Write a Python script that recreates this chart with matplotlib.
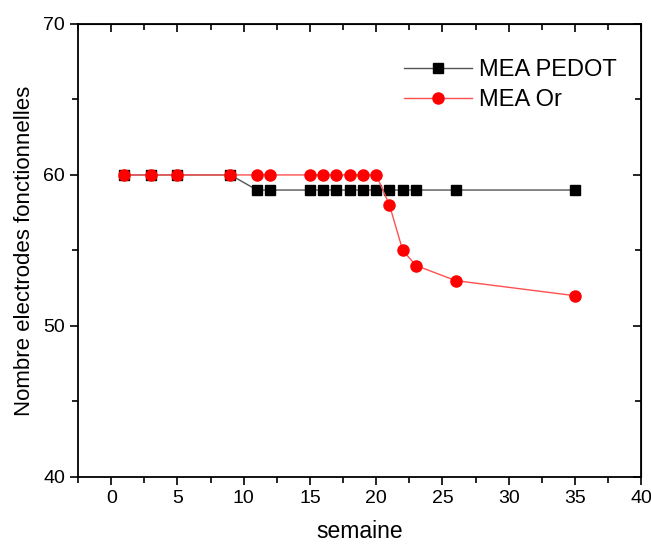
import matplotlib
matplotlib.use("Agg")
import matplotlib.pyplot as plt
from matplotlib.ticker import MultipleLocator

plt.rcParams['font.family'] = ['Liberation Sans', 'DejaVu Sans']

weeks = [1, 3, 5, 9, 11, 12, 15, 16, 17, 18, 19, 20, 21, 22, 23, 26, 35]
pedot = [60, 60, 60, 60, 59, 59, 59, 59, 59, 59, 59, 59, 59, 59, 59, 59, 59]
gold = [60, 60, 60, 60, 60, 60, 60, 60, 60, 60, 60, 60, 58, 55, 54, 53, 52]

fig = plt.figure(figsize=(6.51, 5.45), dpi=100)
ax = fig.add_axes([0.12, 0.125, 0.865, 0.831])

ax.plot(weeks, pedot, color='#555555', lw=1.0, marker='s', ms=7,
        mfc='black', mec='black', label='MEA PEDOT', zorder=2)
ax.plot(weeks, gold, color='#ff5050', lw=1.0, marker='o', ms=8,
        mfc='red', mec='red', label='MEA Or', zorder=3)

ax.set_xlim(-2.5, 40)
ax.set_ylim(40, 70)
ax.xaxis.set_major_locator(MultipleLocator(5))
ax.xaxis.set_minor_locator(MultipleLocator(2.5))
ax.yaxis.set_major_locator(MultipleLocator(10))
ax.yaxis.set_minor_locator(MultipleLocator(5))

ax.tick_params(which='both', direction='out', labelsize=14, width=1.2)
ax.tick_params(which='major', length=6)
ax.tick_params(which='minor', length=4)
for s in ax.spines.values():
    s.set_linewidth(1.3)

# inward ticks on top and right
axt = ax.secondary_xaxis('top')
axt.xaxis.set_major_locator(MultipleLocator(5))
axt.xaxis.set_minor_locator(MultipleLocator(2.5))
axt.tick_params(which='both', direction='in', labeltop=False, width=1.2)
axt.tick_params(which='major', length=6)
axt.tick_params(which='minor', length=4)
axr = ax.secondary_yaxis('right')
axr.yaxis.set_major_locator(MultipleLocator(10))
axr.yaxis.set_minor_locator(MultipleLocator(5))
axr.tick_params(which='both', direction='in', labelright=False, width=1.2)
axr.tick_params(which='major', length=6)
axr.tick_params(which='minor', length=4)

ax.set_xlabel('semaine', fontsize=16.5, labelpad=9)
ax.set_ylabel('Nombre electrodes fonctionnelles', fontsize=16, labelpad=6)

ax.legend(loc='upper right', frameon=False, fontsize=17,
          bbox_to_anchor=(0.995, 0.97), handlelength=2.9, handletextpad=0.3,
          labelspacing=0.35)

fig.savefig('out.png', dpi=100)
